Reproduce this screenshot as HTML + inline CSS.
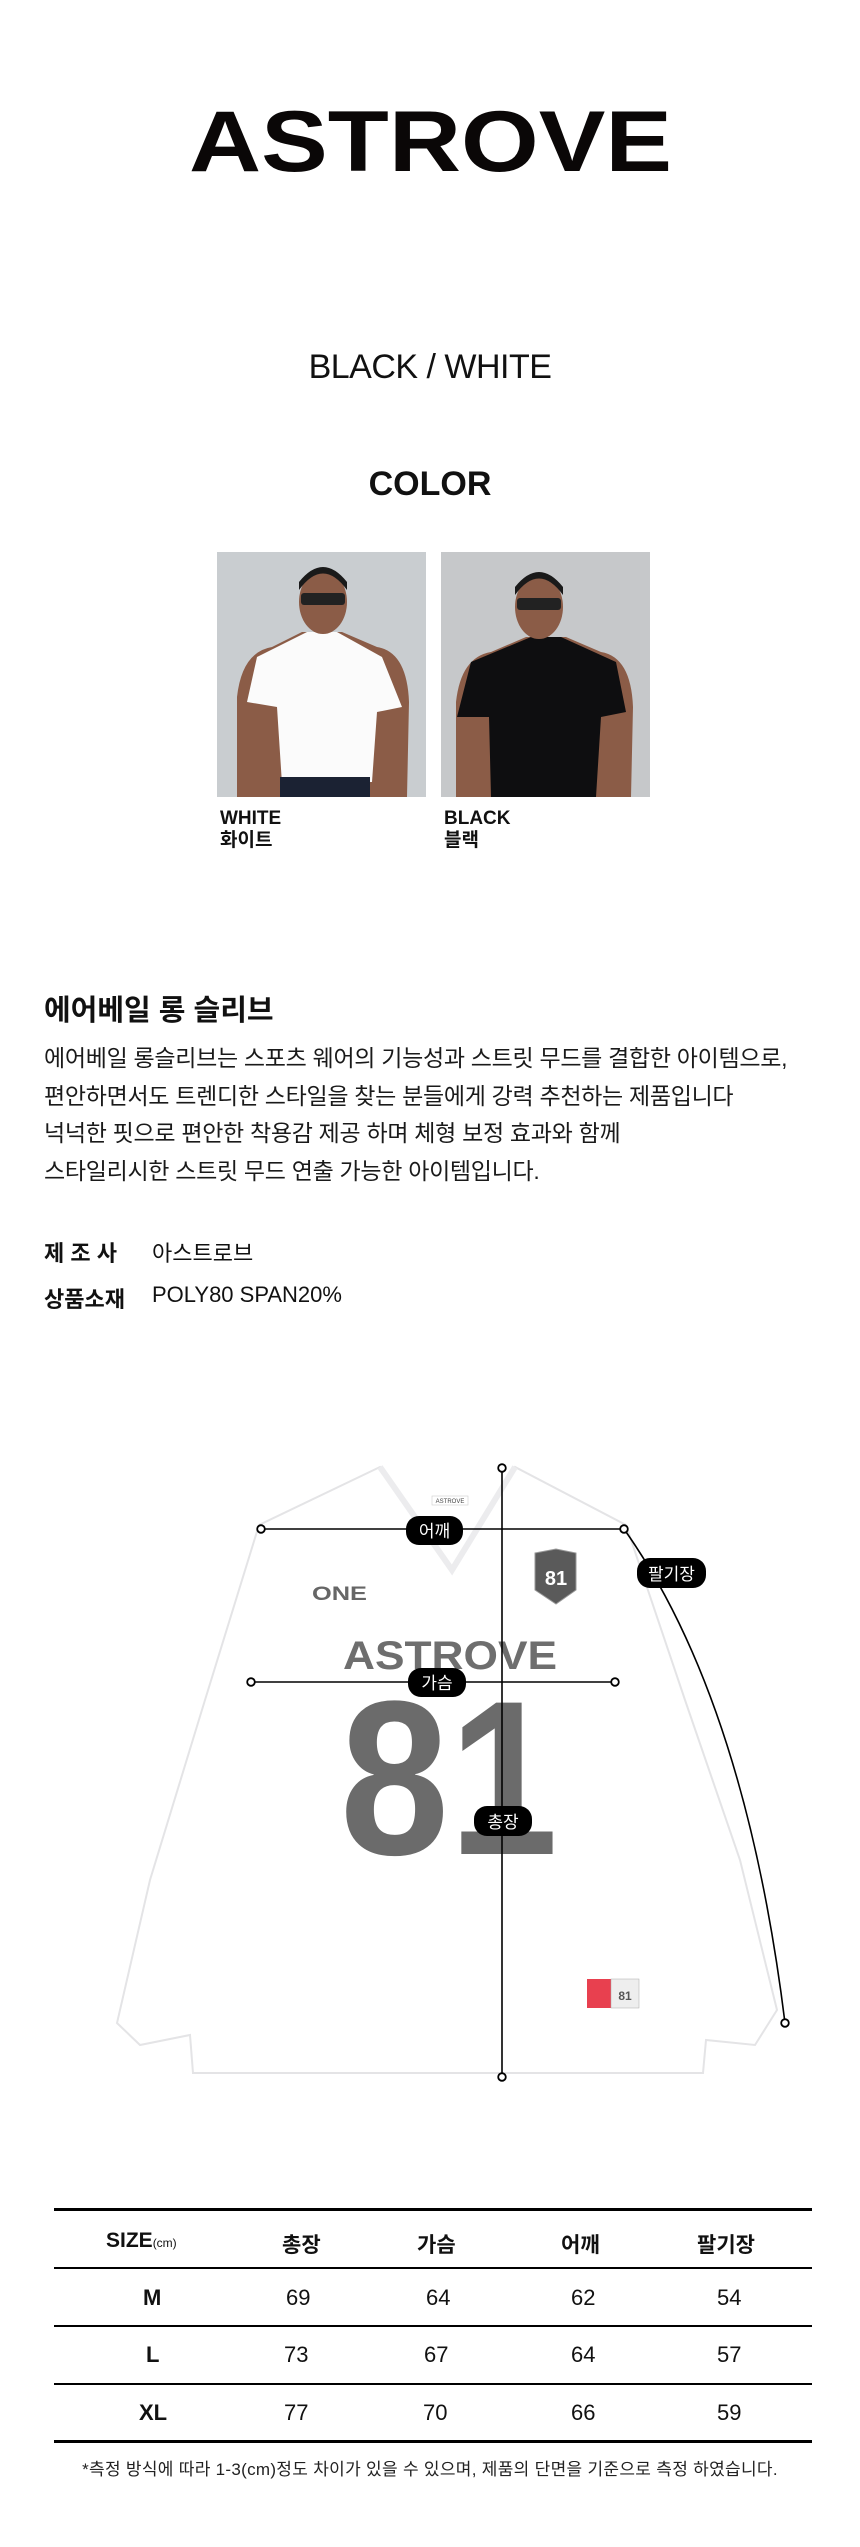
<!DOCTYPE html>
<html><head><meta charset="utf-8"><style>
*{margin:0;padding:0;box-sizing:border-box}
body{width:860px;height:2547px;background:#fff;position:relative;overflow:hidden;font-family:"Liberation Sans","Noto Sans CJK KR",sans-serif;color:#111}
.a{position:absolute;white-space:nowrap}
</style></head><body>

<svg class="a" style="left:0;top:0" width="860" height="200">
<text x="189" y="171" font-family="Liberation Sans" font-weight="bold" font-size="86" textLength="483" lengthAdjust="spacingAndGlyphs" fill="#0a0707">ASTROVE</text>
</svg>

<div class="a" style="left:0;width:860px;top:348px;text-align:center;font-size:34px;font-weight:300;letter-spacing:-0.5px">BLACK / WHITE</div>
<div class="a" style="left:0;width:860px;top:465px;text-align:center;font-size:34px;font-weight:bold">COLOR</div>

<svg class="a" style="left:217px;top:552px" width="209" height="245">
<rect width="209" height="245" fill="#c9cdd0"/>
<path d="M20 145 Q25 100 55 95 L85 80 L125 80 L160 95 Q190 100 192 150 L190 245 L20 245 Z" fill="#8b5c47"/>
<path d="M30 150 L40 105 L90 80 L120 80 L165 105 L185 155 L160 160 L155 230 L65 232 L60 155 Z" fill="#fbfbfb"/>
<rect x="63" y="225" width="90" height="20" fill="#1b2233"/>
<ellipse cx="106" cy="50" rx="24" ry="32" fill="#8b5c47"/>
<path d="M82 38 Q106 5 130 38 L130 30 Q106 0 82 30Z" fill="#1a1a1a"/>
<rect x="84" y="41" width="44" height="12" rx="3" fill="#222"/>
</svg>
<svg class="a" style="left:441px;top:552px" width="209" height="245">
<rect width="209" height="245" fill="#c6c8ca"/>
<path d="M15 150 Q20 105 50 100 L85 85 L125 85 L160 100 Q190 105 192 155 L190 245 L15 245 Z" fill="#8b5c47"/>
<path d="M16 165 L30 110 L90 85 L120 85 L175 110 L185 160 L160 165 L155 245 L50 245 L48 165 Z" fill="#0e0e10"/>
<ellipse cx="98" cy="55" rx="24" ry="32" fill="#8b5c47"/>
<path d="M74 43 Q98 10 122 43 L122 35 Q98 5 74 35Z" fill="#1a1a1a"/>
<rect x="76" y="46" width="44" height="12" rx="3" fill="#222"/>
</svg>

<div class="a" style="left:220px;top:808px;font-size:19px;font-weight:bold;line-height:22px">WHITE<br>화이트</div>
<div class="a" style="left:444px;top:808px;font-size:19px;font-weight:bold;line-height:22px">BLACK<br>블랙</div>

<div class="a" style="left:44px;top:987px;font-size:29px;font-weight:bold">에어베일 롱 슬리브</div>
<div class="a" style="left:44px;top:1040px;font-size:23px;line-height:37.5px;color:#1a1a1a;letter-spacing:-0.3px">에어베일 롱슬리브는 스포츠 웨어의 기능성과 스트릿 무드를 결합한 아이템으로,<br>편안하면서도 트렌디한 스타일을 찾는 분들에게 강력 추천하는 제품입니다<br>넉넉한 핏으로 편안한 착용감 제공 하며 체형 보정 효과와 함께<br>스타일리시한 스트릿 무드 연출 가능한 아이템입니다.</div>

<div class="a" style="left:44px;top:1236px;font-size:22px;font-weight:bold">제 조 사</div>
<div class="a" style="left:152px;top:1236px;font-size:22px">아스트로브</div>
<div class="a" style="left:44px;top:1282px;font-size:22px;font-weight:bold">상품소재</div>
<div class="a" style="left:152px;top:1282px;font-size:22px">POLY80 SPAN20%</div>

<svg class="a" style="left:0;top:0" width="860" height="2100">
<path d="M380 1467 L259 1525 L205 1700 L150 1880 L117 2023 L140 2045 L190 2035 L193 2073 L703 2073 L706 2040 L755 2045 L777 2010 L740 1860 L685 1700 L626 1525 L515 1467 L452 1570 Z" fill="#fff" stroke="#e4e4e6" stroke-width="2"/>
<path d="M380 1467 L452 1570 L515 1467" fill="none" stroke="#ececee" stroke-width="6"/>
<rect x="432" y="1496" width="36" height="9" fill="#fff" stroke="#ccc" stroke-width="0.6"/>
<text x="450" y="1503" font-size="6" text-anchor="middle" fill="#444" font-family="Liberation Sans">ASTROVE</text>
<text x="312" y="1600" font-size="19" font-weight="bold" fill="#666" font-family="Liberation Sans" textLength="55" lengthAdjust="spacingAndGlyphs">ONE</text>
<path d="M535 1553 L556 1549 L576 1553 L576 1590 L556 1604 L535 1590Z" fill="#5a5a5a" stroke="#999"/>
<text x="556" y="1585" font-size="20" font-weight="bold" fill="#fff" text-anchor="middle" font-family="Liberation Sans">81</text>
<text x="343" y="1669" font-size="40" font-weight="bold" fill="#6e6e6e" font-family="Liberation Sans" textLength="214" lengthAdjust="spacingAndGlyphs">ASTROVE</text>
<text x="340" y="1854" font-size="220" font-weight="bold" fill="#6b6b6b" font-family="Liberation Sans" textLength="218" lengthAdjust="spacingAndGlyphs">81</text>
<rect x="587" y="1979" width="24" height="29" fill="#e8404f"/>
<rect x="611" y="1979" width="28" height="29" fill="#eee" stroke="#aaa" stroke-width="0.5"/>
<text x="625" y="2000" font-size="12" font-weight="bold" text-anchor="middle" fill="#555" font-family="Liberation Sans">81</text>

<g stroke="#000" stroke-width="1.6" fill="none">
<line x1="502" y1="1468" x2="502" y2="2077"/>
<line x1="261" y1="1529" x2="624" y2="1529"/>
<line x1="251" y1="1682" x2="615" y2="1682"/>
<path d="M624 1529 Q745 1700 785 2023"/>
</g>
<g fill="#fff" stroke="#000" stroke-width="1.8">
<circle cx="502" cy="1468" r="3.8"/><circle cx="502" cy="2077" r="3.8"/>
<circle cx="261" cy="1529" r="3.8"/><circle cx="624" cy="1529" r="3.8"/>
<circle cx="251" cy="1682" r="3.8"/><circle cx="615" cy="1682" r="3.8"/>
<circle cx="785" cy="2023" r="3.8"/>
</g>
<g fill="#000">
<rect x="406" y="1516" width="57" height="29" rx="13"/>
<rect x="408" y="1668" width="58" height="29" rx="13"/>
<rect x="474" y="1806" width="58" height="30" rx="13"/>
<rect x="637" y="1558" width="69" height="30" rx="13"/>
</g>
<g fill="#fff" font-size="17" text-anchor="middle" font-family="Liberation Sans, Noto Sans CJK KR, sans-serif">
<text x="434.5" y="1537">어깨</text>
<text x="437" y="1689">가슴</text>
<text x="503" y="1828">총장</text>
<text x="671.5" y="1580">팔기장</text>
</g>
</svg>

<div class="a" style="left:54px;top:2208px;width:758px;height:3px;background:#000"></div>
<div class="a" style="left:54px;top:2267px;width:758px;height:1.5px;background:#000"></div>
<div class="a" style="left:54px;top:2325px;width:758px;height:1.5px;background:#000"></div>
<div class="a" style="left:54px;top:2383px;width:758px;height:1.5px;background:#000"></div>
<div class="a" style="left:54px;top:2440px;width:758px;height:3px;background:#000"></div>

<div class="a" style="left:0;top:2229px;width:860px;height:26px;font-size:21px;font-weight:bold">
<span class="a" style="left:106px">SIZE<span style="font-size:12px;font-weight:normal">(cm)</span></span>
<span class="a" style="left:282px">총장</span>
<span class="a" style="left:417px">가슴</span>
<span class="a" style="left:561px">어깨</span>
<span class="a" style="left:697px">팔기장</span>
</div>
<div class="a" style="left:0;top:2285px;width:860px;font-size:22px">
<span class="a" style="left:143px;font-weight:bold">M</span><span class="a" style="left:286px">69</span><span class="a" style="left:426px">64</span><span class="a" style="left:571px">62</span><span class="a" style="left:717px">54</span></div>
<div class="a" style="left:0;top:2342px;width:860px;font-size:22px">
<span class="a" style="left:146px;font-weight:bold">L</span><span class="a" style="left:284px">73</span><span class="a" style="left:424px">67</span><span class="a" style="left:571px">64</span><span class="a" style="left:717px">57</span></div>
<div class="a" style="left:0;top:2400px;width:860px;font-size:22px">
<span class="a" style="left:139px;font-weight:bold">XL</span><span class="a" style="left:284px">77</span><span class="a" style="left:423px">70</span><span class="a" style="left:571px">66</span><span class="a" style="left:717px">59</span></div>

<div class="a" style="left:0;width:860px;top:2455px;text-align:center;font-size:17px;color:#222;letter-spacing:0.3px">*측정 방식에 따라 1-3(cm)정도 차이가 있을 수 있으며, 제품의 단면을 기준으로 측정 하였습니다.</div>
</body></html>
